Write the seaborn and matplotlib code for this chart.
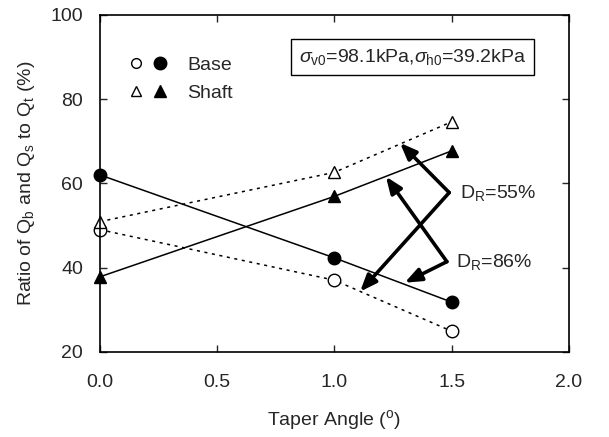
import numpy as np
import pandas as pd
import matplotlib
matplotlib.use("Agg")
import matplotlib.pyplot as plt
from matplotlib.legend_handler import HandlerTuple
from matplotlib.lines import Line2D
import seaborn as sns

# ---- data ----
angle = [0.0, 1.0, 1.5]
base_86 = [62.0, 42.3, 31.8]
base_55 = [49.0, 37.0, 24.9]
shaft_86 = [37.8, 56.9, 67.7]
shaft_55 = [50.9, 62.6, 74.6]

x_ticks = [0.0, 0.5, 1.0, 1.5, 2.0]
y_ticks = [20, 40, 60, 80, 100]

sns.set_style("ticks")
plt.rcParams["font.family"] = ["Liberation Sans", "DejaVu Sans"]
plt.rcParams["mathtext.fontset"] = "custom"
plt.rcParams["mathtext.rm"] = "Liberation Sans"
plt.rcParams["mathtext.it"] = "Liberation Sans:italic"

fs = 14
fig = plt.figure(figsize=(6.09, 4.37), dpi=100)
ax = fig.add_axes([0.164, 0.195, 0.770, 0.771])

dot = (0, (2, 3))
series = [
    (base_86, "-", "o", "black"),
    (base_55, dot, "o", "white"),
    (shaft_86, "-", "^", "black"),
    (shaft_55, dot, "^", "white"),
]
for vals, ls, mk, fc in series:
    df = pd.DataFrame({"angle": angle, "ratio": vals})
    sns.lineplot(data=df, x="angle", y="ratio", ax=ax, color="black",
                 linestyle=ls, linewidth=1.1, marker=mk, markersize=9,
                 markerfacecolor=fc, markeredgecolor="black",
                 markeredgewidth=1.0, clip_on=False)

# arrows for D_R labels
arrow = dict(arrowstyle="-|>,head_length=0.55,head_width=0.22", lw=2.6,
             color="black", mutation_scale=18, shrinkA=0, shrinkB=0)
ax.annotate("", xy=(1.28, 69.6), xytext=(1.49, 57.8), arrowprops=arrow)
ax.annotate("", xy=(1.11, 34.3), xytext=(1.49, 57.8), arrowprops=arrow)
ax.annotate("", xy=(1.22, 61.6), xytext=(1.48, 41.4), arrowprops=arrow)
ax.annotate("", xy=(1.30, 36.4), xytext=(1.48, 41.4), arrowprops=arrow)
ax.text(1.535, 57.8, r"D$_\mathrm{R}$=55%", fontsize=fs, va="center")
ax.text(1.52, 41.4, r"D$_\mathrm{R}$=86%", fontsize=fs, va="center")

ax.text(1.335, 90, r"$\sigma_\mathrm{v0}$=98.1kPa,$\sigma_\mathrm{h0}$=39.2kPa",
        fontsize=fs, ha="center", va="center",
        bbox=dict(boxstyle="square,pad=0.4", fc="white", ec="black", lw=1))

# legend
h_base = (Line2D([], [], ls="none", marker="o", mfc="white", mec="black", ms=7),
          Line2D([], [], ls="none", marker="o", mfc="black", mec="black", ms=9))
h_shaft = (Line2D([], [], ls="none", marker="^", mfc="white", mec="black", ms=7),
           Line2D([], [], ls="none", marker="^", mfc="black", mec="black", ms=9))
ax.legend([h_base, h_shaft], ["Base", "Shaft"],
          handler_map={tuple: HandlerTuple(ndivide=None, pad=0.3)},
          loc="upper left", bbox_to_anchor=(0.02, 0.93), frameon=False,
          fontsize=fs, handlelength=2.2, handletextpad=0.9, labelspacing=0.55)

ax.set_xlim(0, 2.0)
ax.set_ylim(20, 100)
ax.set_xticks(x_ticks)
ax.set_yticks(y_ticks)
ax.set_xticklabels([f"{t:.1f}" for t in x_ticks])
ax.tick_params(direction="in", top=True, right=True, labelsize=fs,
               length=5, width=1)
ax.tick_params(axis="x", pad=16)
ax.tick_params(axis="y", pad=12)
for s in ax.spines.values():
    s.set_linewidth(1.2)
    s.set_color("black")

ax.set_xlabel(r"Taper Angle ($^\mathrm{o}$)", fontsize=fs, labelpad=12)
ax.set_ylabel(r"Ratio of Q$_\mathrm{b}$ and Q$_\mathrm{s}$ to Q$_\mathrm{t}$ (%)",
              fontsize=fs, labelpad=10)

fig.savefig("out.png", dpi=100)
